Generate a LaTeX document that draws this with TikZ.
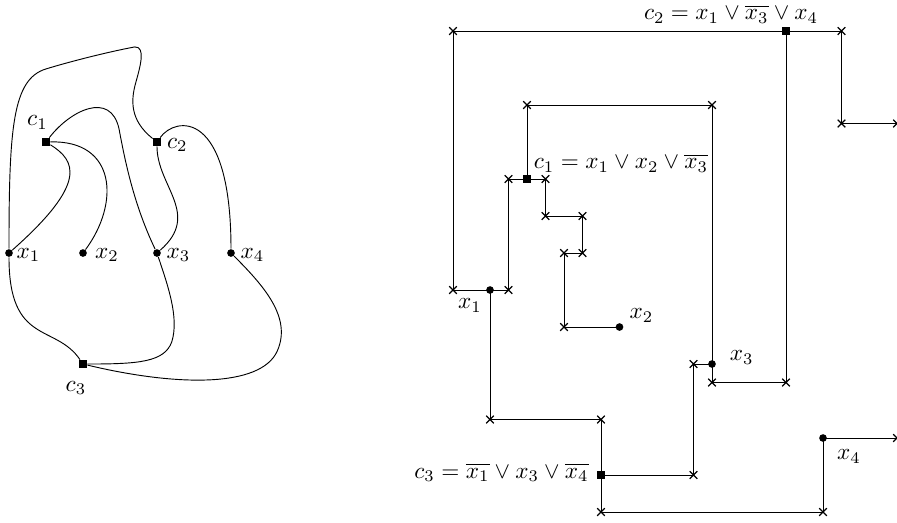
\documentclass[tikz,border=0pt]{standalone}
\usetikzlibrary{shapes.misc}
\begin{document}
\begin{tikzpicture}[x=0.28cm,y=0.28cm,line width=0.4pt,
  dotnode/.style={circle,fill,inner sep=0pt,minimum size=3.3pt},
  sqnode/.style={rectangle,fill,inner sep=0pt,minimum size=3.4pt},
  xmark/.style={cross out,draw,inner sep=0pt,minimum size=2.8pt,line width=0.5pt},
  lbl/.style={inner sep=0pt}]
\useasboundingbox (-0.486,1.676) rectangle (48.0,-26.59);

% ---------- left panel ----------
\node[dotnode] (lx1) at (0,-12) {};
\node[dotnode] (lx2) at (4,-12) {};
\node[dotnode] (lx3) at (8,-12) {};
\node[dotnode] (lx4) at (12,-12) {};
\node[sqnode] (lc1) at (2,-6) {};
\node[sqnode] (lc2) at (8,-6) {};
\node[sqnode] (lc3) at (4,-18) {};

\node[lbl] (llc1) at (1.54,-4.95) {$c_1$};
\node[lbl] (llc2) at (9.1,-6.16) {$c_2$};
\node[lbl] (llc3) at (3.62,-19.3) {$c_3$};
\node[lbl] (llx1) at (1.05,-12.1) {$x_1$};
\node[lbl] (llx2) at (5.3,-12.1) {$x_2$};
\node[lbl] (llx3) at (9.16,-12.1) {$x_3$};
\node[lbl] (llx4) at (13.16,-12.1) {$x_4$};

\draw (lx1) .. controls (0,-5.2) and (0.2,-2.6) .. (2.0,-2.05)
  .. controls (3.4,-1.62) and (5.5,-1.1) .. (6.8,-0.86)
  .. controls (7.4,-0.84) and (7.1,-1.9) .. (6.85,-2.8)
  .. controls (6.6,-3.7) and (6.5,-4.8) .. (lc2);
\draw (lc1) .. controls (3.3,-4.3) and (5.5,-3.2) .. (5.95,-5.3)
  .. controls (6.3,-7.2) and (6.8,-9.5) .. (lx3);
\draw (lc1) .. controls (3.6,-7) and (4.3,-8.2) .. (lx1);
\draw (lc1) .. controls (5.8,-5.9) and (6.0,-9.3) .. (lx2);
\draw (lc2) .. controls (8,-8.4) and (10.4,-9.9) .. (lx3);
\draw (lc2) .. controls (9,-4.6) and (12,-4.2) .. (lx4);
\draw (lx1) .. controls (0,-17) and (2.5,-15.8) .. (lc3);
\draw (lx3) .. controls (8.6,-13.8) and (9.2,-15.5) .. (8.8,-16.8)
  .. controls (8.4,-17.9) and (7,-18) .. (lc3);
\draw (lx4) .. controls (13.8,-13.8) and (15.3,-15.5) .. (14.5,-17.3)
  .. controls (13.6,-19.3) and (9,-19.2) .. (lc3);

% ---------- right panel ----------
\node[sqnode] (rc1) at (28,-8) {};
\node[sqnode] (rc2) at (42,0) {};
\node[sqnode] (rc3) at (32,-24) {};
\node[dotnode] (rx1) at (26,-14) {};
\node[dotnode] (rx2) at (33,-16) {};
\node[dotnode] (rx3) at (38,-18) {};
\node[dotnode] (rx4) at (44,-22) {};

\foreach \n/\p in {a1/{(24,0)},a2/{(24,-14)},a3/{(45,0)},a4/{(45,-5)},a5/{(48,-5)},
  a6/{(42,-19)},a7/{(38,-19)},
  b1/{(28,-4)},b2/{(38,-4)},b3/{(27,-8)},b4/{(27,-14)},b5/{(29,-8)},b6/{(29,-10)},
  b7/{(31,-10)},b8/{(31,-12)},b9/{(30,-12)},b10/{(30,-16)},
  d1/{(32,-21)},d2/{(26,-21)},d3/{(37,-24)},d4/{(37,-18)},d5/{(32,-26)},d6/{(44,-26)},d7/{(48,-22)}}
  \node[xmark] (\n) at \p {};

\draw (rc2.center) -- (a1.center) -- (a2.center) -- (rx1.center);
\draw (rc2.center) -- (a3.center) -- (a4.center) -- (a5.center);
\draw (rc2.center) -- (a6.center) -- (a7.center) -- (rx3.center);
\draw (rc1.center) -- (b1.center) -- (b2.center) -- (rx3.center);
\draw (rc1.center) -- (b3.center) -- (b4.center) -- (rx1.center);
\draw (rc1.center) -- (b5.center) -- (b6.center) -- (b7.center) -- (b8.center)
  -- (b9.center) -- (b10.center) -- (rx2.center);
\draw (rc3.center) -- (d1.center) -- (d2.center) -- (rx1.center);
\draw (rc3.center) -- (d3.center) -- (d4.center) -- (rx3.center);
\draw (rc3.center) -- (d5.center) -- (d6.center) -- (rx4.center);
\draw (rx4.center) -- (d7.center);

\node[lbl] (rlc2) at (39.03,0.9) {$c_2 = x_1 \vee \overline{x_3} \vee x_4$};
\node[lbl] (rlc1) at (33.08,-7.14) {$c_1 = x_1 \vee x_2 \vee \overline{x_3}$};
\node[lbl] (rlc3) at (26.62,-23.86) {$c_3 = \overline{x_1} \vee x_3 \vee \overline{x_4}$};
\node[lbl] (rlx1) at (24.92,-14.84) {$x_1$};
\node[lbl] (rlx2) at (34.19,-15.38) {$x_2$};
\node[lbl] (rlx3) at (39.6,-17.65) {$x_3$};
\node[lbl] (rlx4) at (45.4,-23.0) {$x_4$};
\end{tikzpicture}
\end{document}
